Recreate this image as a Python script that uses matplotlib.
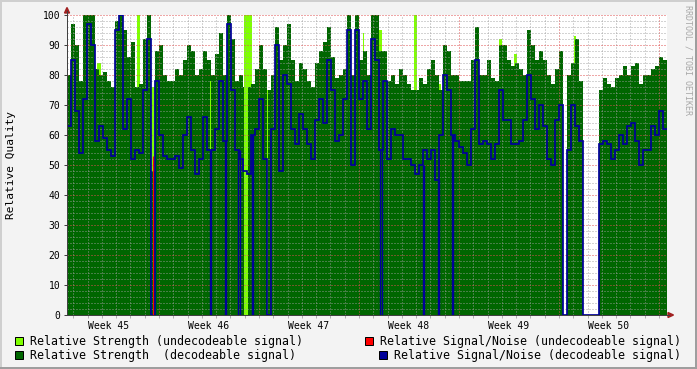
import numpy as np
import matplotlib
matplotlib.use("Agg")
import matplotlib.pyplot as plt
from matplotlib.patches import Rectangle, Polygon

# relative strength, decodeable signal (one value per sample, step 0.28 day)
strength = [80, 97, 90, 78, 100, 100, 100, 82, 80, 81, 78, 76, 98, 100, 95, 86, 91, 76, 77, 92, 100, 48, 88, 90, 80,
            78, 78, 82, 80, 85, 90, 88, 80, 82, 88, 85, 80, 87, 94, 80, 100, 92, 78, 80, 76, 76, 77, 82, 90, 82,
            75, 80, 96, 85, 90, 97, 85, 78, 84, 82, 78, 76, 84, 88, 91, 96, 86, 79, 80, 82, 100, 80, 100, 85, 88,
            80, 100, 100, 88, 88, 78, 80, 77, 82, 80, 77, 75, 75, 79, 77, 82, 85, 80, 75, 90, 88, 80, 80, 78, 78,
            78, 85, 96, 80, 80, 85, 79, 78, 90, 90, 85, 83, 84, 82, 80, 95, 90, 85, 88, 85, 80, 77, 82, 88, 0,
            80, 84, 92, 78, 0, 0, 0, 0, 75, 79, 77, 76, 79, 80, 83, 80, 83, 84, 77, 80, 80, 82, 83, 86, 85]

# relative signal/noise, decodeable signal
snr = [63, 85, 68, 54, 72, 97, 90, 58, 63, 59, 55, 53, 95, 100, 62, 72, 52, 55, 54, 75, 92, 0, 78, 60, 53,
       52, 52, 53, 49, 60, 66, 55, 47, 52, 66, 55, 55, 62, 78, 58, 97, 75, 55, 52, 48, 47, 60, 62, 72, 52,
       0, 62, 90, 48, 80, 77, 62, 57, 67, 62, 57, 52, 65, 72, 64, 85, 75, 58, 60, 72, 95, 50, 95, 72, 78,
       62, 92, 85, 55, 78, 52, 62, 60, 60, 52, 52, 50, 47, 50, 55, 52, 55, 45, 60, 80, 75, 60, 58, 56, 54,
       50, 62, 85, 57, 58, 57, 52, 57, 75, 65, 65, 57, 57, 58, 65, 80, 72, 62, 70, 63, 52, 50, 65, 70, 0,
       55, 70, 63, 58, 0, 0, 0, 0, 57, 58, 57, 52, 55, 60, 57, 63, 64, 58, 50, 55, 55, 63, 60, 68, 62]

# undecodeable strength peaks (start day, end day, value)
weak_start = [2.66, 5.46, 6.44, 8.61, 12.95, 13.51, 14.56, 21.28, 22.40, 24.85, 26.46, 30.80, 31.85, 36.05]
weak_end = [2.94, 5.64, 6.86, 8.75, 13.51, 13.79, 14.70, 21.35, 22.58, 25.06, 26.74, 31.01, 32.06, 36.19]
weak_val = [84, 100, 76, 78, 100, 76, 75, 94, 95, 100, 77, 92, 87, 93]
# fully undecodeable slots (no decodeable strength)
lost_start = [10.55, 12.95, 14.56]
lost_end = [10.67, 13.23, 14.66]
lost_val = [78, 100, 75]

# short snr dropouts to zero
drop_start = [10.55, 11.62, 12.56, 13.48, 22.50, 25.45, 26.50, 27.48]
drop_end = [10.67, 11.69, 12.64, 13.55, 22.58, 25.52, 26.57, 27.55]

# undecodeable snr
red_t = [6.60]
red_v = [53]

weeks = ["Week 45", "Week 46", "Week 47", "Week 48", "Week 49", "Week 50"]

W, H = 697, 369
t0 = 0.56
step = 0.28
edges = t0 + step * np.arange(len(strength) + 1)

dkgreen = "#006600"
ltgreen = "#7FFF00"
blue = "#000099"
red = "#FF0000"
mono = "DejaVu Sans Mono"

fig = plt.figure(figsize=(W / 100, H / 100), dpi=100)
fig.patch.set_facecolor("#F3F3F3")
ax = fig.add_axes([67 / W, 1 - 315 / H, 600 / W, 300 / H])
ax.set_facecolor("white")


def px(x, y):
    return (x / W, 1 - y / H)


# undecodeable strength behind
for a, b, v in zip(weak_start, weak_end, weak_val):
    ax.fill_between([a, b], 0, v, color=ltgreen, lw=0, zorder=1)
ax.stairs(strength, edges, fill=True, color=dkgreen, lw=0, zorder=1.2)
for a, b, v in zip(lost_start, lost_end, lost_val):
    ax.fill_between([a, b], 0, v, color=ltgreen, lw=0, zorder=1.3)

# grid (dotted, crisp)
for d in range(1, 43):
    if d % 7 == 0:
        ax.axvline(d, color="#DE5050", alpha=0.5, lw=1.0, ls=(0, (1, 1)), zorder=2, antialiased=False)
    else:
        ax.axvline(d, color="#9F9F9F", alpha=0.45, lw=1.0, ls=(0, (1, 1)), zorder=2, antialiased=False)
for v in range(2, 101, 2):
    if v % 10 == 0:
        ax.axhline(v, color="#DE5050", alpha=0.5, lw=1.0, ls=(0, (1, 1)), zorder=2, antialiased=False)
    else:
        ax.axhline(v, color="#9F9F9F", alpha=0.45, lw=1.0, ls=(0, (1, 1)), zorder=2, antialiased=False)

# snr lines
ax.stairs(snr, edges, baseline=None, color=blue, lw=1.25, zorder=3)
snr_arr = np.array(snr)
for a, b in zip(drop_start, drop_end):
    h = snr_arr[int((a - t0) / step)]
    ax.vlines([a, b], 0, h, color=blue, lw=1.0, zorder=3)
ax.vlines(red_t, 0, red_v, color=red, lw=0.8, zorder=3)

ax.set_xlim(t0, t0 + 42)
ax.set_ylim(0, 100)

ax.set_yticks(range(0, 101, 10))
ax.set_yticklabels([str(v) for v in range(0, 101, 10)], fontfamily=mono, fontsize=7)
ax.tick_params(axis="y", length=2.2, width=0.72, color="#404040", pad=2.5)

ax.set_xticks([3.5 + 7 * k for k in range(6)])
ax.set_xticklabels(weeks, fontfamily=mono, fontsize=7)
ax.tick_params(axis="x", which="major", length=0, pad=4)
ax.set_xticks(range(1, 43), minor=True)
ax.tick_params(axis="x", which="minor", length=2, width=0.72, color="#B0B0B0")
for d, tk in zip(range(1, 43), ax.xaxis.get_minor_ticks()):
    if d % 7 == 0:
        tk.tick1line.set_color("#DE5050")

for s in ["top", "right"]:
    ax.spines[s].set_visible(False)
for s in ["left", "bottom"]:
    ax.spines[s].set_color("#404040")
    ax.spines[s].set_linewidth(0.72)

# axis extensions and arrows
fig.lines.append(plt.Line2D([67 / W, 67 / W], [1 - 315 / H, 1 - 11 / H], transform=fig.transFigure,
                            color="#404040", lw=0.72))
fig.lines.append(plt.Line2D([67 / W, 669 / W], [1 - 315 / H, 1 - 315 / H], transform=fig.transFigure,
                            color="#404040", lw=0.72))
fig.patches.append(Polygon([px(64.5, 13), px(69.5, 13), px(67, 7.5)], closed=True,
                           transform=fig.transFigure, color="#A02020"))
fig.patches.append(Polygon([px(668, 312.5), px(668, 317.5), px(673.5, 315)], closed=True,
                           transform=fig.transFigure, color="#A02020"))

# frame shading
fig.patches.append(Rectangle(px(0, 2), 1, 2 / H, transform=fig.transFigure, color="#CFCFCF", lw=0))
fig.patches.append(Rectangle(px(0, H), 2 / W, 1, transform=fig.transFigure, color="#CFCFCF", lw=0))
fig.patches.append(Rectangle(px(0, H), 1, 2 / H, transform=fig.transFigure, color="#9E9E9E", lw=0))
fig.patches.append(Rectangle(px(W - 2, H), 2 / W, 1, transform=fig.transFigure, color="#9E9E9E", lw=0))

fig.text(11 / W, 1 - 165 / H, "Relative Quality", rotation=90, ha="center", va="center",
         fontfamily=mono, fontsize=8)
fig.text(688 / W, 1 - 60 / H, "RRDTOOL / TOBI OETIKER", rotation=270, ha="center", va="center",
         fontfamily=mono, fontsize=6, color="#A8A8A8")

# legend
legend_items = [
    (15, 341, ltgreen, "Relative Strength (undecodeable signal)", 30, "left"),
    (15, 355, dkgreen, "Relative Strength  (decodeable signal)", 30, "left"),
    (365, 341, red, "Relative Signal/Noise (undecodeable signal)", 681, "right"),
    (379, 355, blue, "Relative Signal/Noise (decodeable signal)", 681, "right"),
]
for sx, sy, col, label, tx, ha in legend_items:
    fig.patches.append(Rectangle(px(sx, sy + 4), 8 / W, 8 / H, transform=fig.transFigure,
                                 facecolor=col, edgecolor="black", lw=0.72))
    fig.text(tx / W, 1 - sy / H, label, ha=ha, va="center", fontfamily=mono, fontsize=8.4)

fig.savefig("out.png", dpi=100, facecolor=fig.get_facecolor())
